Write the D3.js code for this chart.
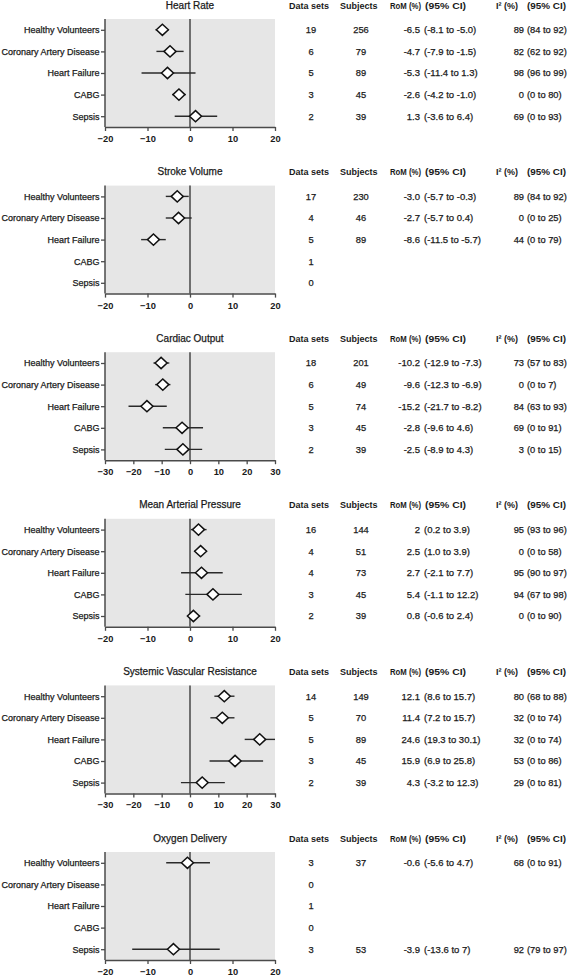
<!DOCTYPE html>
<html>
<head>
<meta charset="utf-8">
<script src="https://cdn.jsdelivr.net/npm/d3@7"></script>
<style>
  html, body { margin: 0; padding: 0; background: #fff; }
  svg { display: block; }
  text { font-family: "Liberation Sans", Arial, sans-serif; fill: #1a1a1a; }
  .thick { stroke: #1a1a1a; stroke-width: 0.25px; }
</style>
</head>
<body>
<svg id="chart" width="567" height="976"></svg>
<script>
// ---------------- DATA ----------------
const categories = ["Healthy Volunteers", "Coronary Artery Disease", "Heart Failure", "CABG", "Sepsis"];
const titles = ["Heart Rate", "Stroke Volume", "Cardiac Output", "Mean Arterial  Pressure", "Systemic Vascular Resistance", "Oxygen Delivery"];
const xDomains = [[-20, 20], [-20, 20], [-30, 30], [-20, 20], [-30, 30], [-20, 20]];
const xTicks = [
  [-20, -10, 0, 10, 20],
  [-20, -10, 0, 10, 20],
  [-30, -20, -10, 0, 10, 20, 30],
  [-20, -10, 0, 10, 20],
  [-30, -20, -10, 0, 10, 20, 30],
  [-20, -10, 0, 10, 20]
];
const dataSets = [
  [19, 6, 5, 3, 2],
  [17, 4, 5, 1, 0],
  [18, 6, 5, 3, 2],
  [16, 4, 4, 3, 2],
  [14, 5, 5, 3, 2],
  [3, 0, 1, 0, 3]
];
const subjects = [
  [256, 79, 89, 45, 39],
  [230, 46, 89, null, null],
  [201, 49, 74, 45, 39],
  [144, 51, 73, 45, 39],
  [149, 70, 89, 45, 39],
  [37, null, null, null, 53]
];
const rom = [
  ["-6.5", "-4.7", "-5.3", "-2.6", "1.3"],
  ["-3.0", "-2.7", "-8.6", null, null],
  ["-10.2", "-9.6", "-15.2", "-2.8", "-2.5"],
  ["2", "2.5", "2.7", "5.4", "0.8"],
  ["12.1", "11.4", "24.6", "15.9", "4.3"],
  ["-0.6", null, null, null, "-3.9"]
];
const romLo = [
  ["-8.1", "-7.9", "-11.4", "-4.2", "-3.6"],
  ["-5.7", "-5.7", "-11.5", null, null],
  ["-12.9", "-12.3", "-21.7", "-9.6", "-8.9"],
  ["0.2", "1.0", "-2.1", "-1.1", "-0.6"],
  ["8.6", "7.2", "19.3", "6.9", "-3.2"],
  ["-5.6", null, null, null, "-13.6"]
];
const romHi = [
  ["-5.0", "-1.5", "1.3", "-1.0", "6.4"],
  ["-0.3", "0.4", "-5.7", null, null],
  ["-7.3", "-6.9", "-8.2", "4.6", "4.3"],
  ["3.9", "3.9", "7.7", "12.2", "2.4"],
  ["15.7", "15.7", "30.1", "25.8", "12.3"],
  ["4.7", null, null, null, "7"]
];
const i2 = [
  [89, 82, 98, 0, 69],
  [89, 0, 44, null, null],
  [73, 0, 84, 69, 3],
  [95, 0, 95, 94, 0],
  [80, 32, 32, 53, 29],
  [68, null, null, null, 92]
];
const i2Lo = [
  [84, 62, 96, 0, 0],
  [84, 0, 0, null, null],
  [57, 0, 63, 0, 0],
  [93, 0, 90, 67, 0],
  [68, 0, 0, 0, 0],
  [0, null, null, null, 79]
];
const i2Hi = [
  [92, 92, 99, 80, 93],
  [92, 25, 79, null, null],
  [83, 7, 93, 91, 15],
  [96, 58, 97, 98, 90],
  [88, 74, 74, 86, 81],
  [91, null, null, null, 97]
];

// ---------------- LAYOUT ----------------
const svg = d3.select("#chart");
const plotLeft = 105, plotRight = 275;
const plotH = 108;
const firstTop = 19, panelStep = 166.6;
const col = { ds: 311, subj: 361, romHdr: 390, romVal: 420, romCi: 424, i2Hdr: 496, i2Val: 524, i2Ci: 527, ciHdr: 425, i2CiHdr: 527 };

titles.forEach((title, p) => {
  const top = firstTop + p * panelStep;
  const bottom = top + plotH;
  const g = svg.append("g");

  const x = d3.scaleLinear().domain(xDomains[p]).range([plotLeft, plotRight]);
  const y = d3.scalePoint().domain(categories).range([top, bottom]).padding(0.5);

  // background
  g.append("rect")
    .attr("x", plotLeft).attr("y", top)
    .attr("width", plotRight - plotLeft).attr("height", plotH)
    .attr("fill", "#e6e6e6");

  // zero line
  g.append("line")
    .attr("x1", x(0)).attr("x2", x(0))
    .attr("y1", top).attr("y2", bottom)
    .attr("stroke", "#6f6f6f").attr("stroke-width", 2);

  // axes
  const xAxis = g.append("g")
    .attr("transform", `translate(0,${bottom})`)
    .call(d3.axisBottom(x).tickValues(xTicks[p]).tickSize(4).tickPadding(4.5).tickSizeOuter(0));
  const yAxis = g.append("g")
    .attr("transform", `translate(${plotLeft},0)`)
    .call(d3.axisLeft(y).tickSize(4).tickPadding(1.5).tickSizeOuter(0));
  [xAxis, yAxis].forEach(a => {
    a.select(".domain").attr("stroke", "#4a4a4a").attr("stroke-width", 1.5);
    a.selectAll(".tick line").attr("stroke", "#4a4a4a").attr("stroke-width", 1.3);
    a.selectAll(".tick text").attr("fill", "#1a1a1a").style("font-family", '"Liberation Sans", Arial, sans-serif');
  });
  yAxis.select(".domain").attr("d", `M0,${top}V${bottom}`);
  xAxis.selectAll(".tick text").style("font-size", "9.3px").style("font-weight", "bold");
  yAxis.selectAll(".tick text").style("font-size", "9px").classed("thick", true);

  // CIs and diamonds
  const rows = categories.map((c, i) => ({ c, i, v: rom[p][i], lo: romLo[p][i], hi: romHi[p][i] }))
    .filter(d => d.v !== null);
  const [dMin, dMax] = xDomains[p];
  const clamp = v => Math.max(dMin, Math.min(dMax, v));
  g.selectAll(".ci").data(rows).enter().append("line")
    .attr("x1", d => x(clamp(+d.lo))).attr("x2", d => x(clamp(+d.hi)))
    .attr("y1", d => y(d.c)).attr("y2", d => y(d.c))
    .attr("stroke", "#2a2a2a").attr("stroke-width", 1.4);
  g.selectAll(".dm").data(rows).enter().append("path")
    .attr("d", d => {
      const cx = x(+d.v), cy = y(d.c), w = 6, h = 5.6;
      return `M${cx - w},${cy}L${cx},${cy - h}L${cx + w},${cy}L${cx},${cy + h}Z`;
    })
    .attr("fill", "#fff").attr("stroke", "#111").attr("stroke-width", 1.5);

  // title
  g.append("text")
    .attr("x", x(0)).attr("y", top - 10.5)
    .attr("text-anchor", "middle")
    .attr("class", "thick")
    .style("font-size", "10px")
    .text(title);

  // table headers
  const hy = top - 10.5;
  const hdr = (tx, txt, len) => {
    const t = g.append("text")
      .attr("x", tx).attr("y", hy)
      .style("font-size", "9px").style("font-weight", "bold").text(txt);
    if (len) t.attr("textLength", len).attr("lengthAdjust", "spacingAndGlyphs");
    return t;
  };
  hdr(289, "Data sets");
  hdr(340, "Subjects");
  hdr(col.romHdr, "RoM (%)", 31);
  hdr(col.ciHdr, "(95% CI)", 41);
  hdr(col.i2Hdr, "I\u00B2 (%)");
  hdr(col.i2CiHdr, "(95% CI)", 39);

  // table rows
  const cell = (tx, ty, txt, anchor, fs) => g.append("text")
    .attr("x", tx).attr("y", ty + 3.3).attr("text-anchor", anchor)
    .attr("class", "thick")
    .style("font-size", (fs || 9.3) + "px").text(txt);
  categories.forEach((c, i) => {
    const ry = y(c);
    cell(col.ds, ry, dataSets[p][i], "middle");
    if (subjects[p][i] !== null) cell(col.subj, ry, subjects[p][i], "middle");
    if (rom[p][i] !== null) {
      cell(col.romVal, ry, rom[p][i], "end", 9.5);
      cell(col.romCi, ry, `(${romLo[p][i]} to ${romHi[p][i]})`, "start", 9.5);
    }
    if (i2[p][i] !== null) {
      cell(col.i2Val, ry, i2[p][i], "end");
      cell(col.i2Ci, ry, `(${i2Lo[p][i]} to ${i2Hi[p][i]})`, "start");
    }
  });
});
</script>
</body>
</html>
